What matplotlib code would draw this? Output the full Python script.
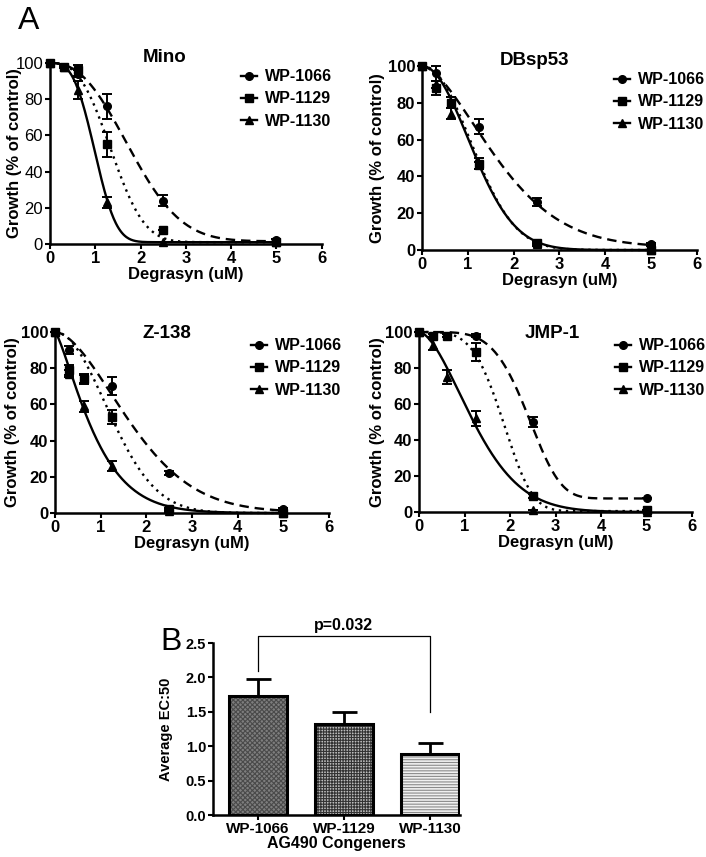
import numpy as np
import matplotlib
matplotlib.use('Agg')
import matplotlib.pyplot as plt

plt.rcParams['font.family'] = ['Liberation Sans', 'DejaVu Sans']
plt.rcParams['hatch.linewidth'] = 0.8

# ── Data ─────────────────────────────────────────────────────────────────────
DOSES = [0, 0.3125, 0.625, 1.25, 2.5, 5]
COMPOUNDS = ['WP-1066', 'WP-1129', 'WP-1130']
CELL_LINES = ['Mino', 'DBsp53', 'Z-138', 'JMP-1']

# mean growth (% of control), one list per compound, per cell line
mino_mean = [[100, 98, 94, 76, 24, 2],
             [100, 98, 96, 55, 8, 1],
             [100, 98, 85, 23, 1, 1]]
mino_err = [[0, 0, 2, 7, 3, 1],
            [0, 0, 3, 7, 0, 0],
            [0, 1, 5, 3, 0, 0]]

dbsp53_mean = [[100, 96, 80, 67, 26, 3],
               [100, 88, 80, 47, 4, 0],
               [100, 90, 74, 46, 3, 0]]
dbsp53_err = [[0, 4, 3, 4, 2, 1],
              [0, 4, 3, 3, 1, 0],
              [0, 2, 3, 2, 1, 0]]

z138_mean = [[100, 90, 74, 70, 22, 2],
             [100, 79, 74, 53, 2, 0],
             [100, 77, 59, 26, 1, 0]]
z138_err = [[0, 2, 2, 5, 1, 1],
            [0, 3, 3, 4, 1, 0],
            [0, 2, 3, 3, 1, 0]]

jmp1_mean = [[100, 98, 98, 98, 50, 8],
             [100, 98, 98, 89, 9, 1],
             [100, 93, 75, 52, 1, 0]]
jmp1_err = [[0, 1, 1, 1, 3, 0],
            [0, 1, 1, 5, 1, 0],
            [0, 3, 4, 4, 0, 0]]

# fitted curve parameters: scale, shape, bottom
mino_fit = [(2.10, 2.4, 1.5), (1.56, 2.8, 1.0), (1.12, 3.1, 1.0)]
dbsp53_fit = [(2.01, 1.63, 1.5), (1.44, 2.1, 0.0), (1.42, 2.0, 0.0)]
z138_fit = [(2.03, 1.73, 0.5), (1.55, 2.0, 0.0), (0.99, 1.3, 0.0)]
jmp1_fit = [(2.584, 4.7, 7.5), (2.02, 4.1, 0.5), (1.49, 1.7, 0.0)]

# panel B: average EC50
EC50_MEAN = [1.73, 1.33, 0.88]
EC50_ERR = [0.25, 0.17, 0.17]
P_TEXT = 'p=0.032'

# ── Styles ───────────────────────────────────────────────────────────────────
MARKERS = ['o', 's', '^']
LINESTYLES = [(0, (4, 2.5)), (0, (1, 2)), '-']

fig = plt.figure(figsize=(7.06, 8.57), dpi=100)

rects = [[0.0708, 0.7153, 0.385, 0.2112],
         [0.5977, 0.7083, 0.3895, 0.2147],
         [0.0779, 0.4014, 0.388, 0.2112],
         [0.5935, 0.4026, 0.3867, 0.2100]]
means = [mino_mean, dbsp53_mean, z138_mean, jmp1_mean]
errs = [mino_err, dbsp53_err, z138_err, jmp1_err]
fits = [mino_fit, dbsp53_fit, z138_fit, jmp1_fit]
title_pos = [(0.423, 1.03), (0.41, 1.03), (0.41, 0.99), (0.487, 0.99)]
ylabel_x = [-0.103, -0.135, -0.128, -0.125]
legend_x = [0.675, 0.67, 0.685, 0.69]

xfit = np.linspace(0, 5, 300)
for p, name in enumerate(CELL_LINES):
    ax = fig.add_axes(rects[p])
    for i, comp in enumerate(COMPOUNDS):
        a, k, bot = fits[p][i]
        yfit = bot + (100 - bot) * np.exp(-(xfit / a) ** k)
        ax.plot(xfit, yfit, color='black', lw=1.7, ls=LINESTYLES[i], clip_on=False)
        ax.errorbar(DOSES, means[p][i], yerr=errs[p][i], fmt=MARKERS[i],
                    color='black', ms=5.5, elinewidth=1.4, capsize=3.5,
                    capthick=1.4, clip_on=False, zorder=3)
    handles = [plt.Line2D([], [], color='black', marker=MARKERS[i], ms=5.5, lw=1.7)
               for i in range(3)]
    ax.legend(handles, COMPOUNDS, loc='upper left',
              bbox_to_anchor=(legend_x[p], 1.01),
              frameon=False, handlelength=1.0, handletextpad=0.5,
              labelspacing=0.45, borderpad=0,
              prop={'weight': 'bold', 'size': 11.5})
    ax.text(title_pos[p][0], title_pos[p][1], name, transform=ax.transAxes,
            ha='center', va='center', fontsize=13.5, fontweight='bold')
    ax.set_xlim(0, 6)
    ax.set_ylim(0, 100)
    ax.set_xticks(range(0, 7))
    ax.set_yticks(range(0, 101, 20))
    for s in ['top', 'right']:
        ax.spines[s].set_visible(False)
    for s in ['left', 'bottom']:
        ax.spines[s].set_linewidth(1.8)
    ax.tick_params(width=1.5, length=3.5, pad=1.5, labelsize=12)
    for lab in ax.get_xticklabels():
        lab.set_fontweight('bold')
    if p > 0:
        for lab in ax.get_yticklabels():
            lab.set_fontweight('bold')
    ax.set_xlabel('Degrasyn (uM)', fontsize=12, fontweight='bold', labelpad=1)
    ax.set_ylabel('Growth (% of control)', fontsize=12, fontweight='bold')
    ax.yaxis.set_label_coords(ylabel_x[p], 0.5)

fig.text(0.025, 0.993, 'A', fontsize=23, va='top', ha='left')

# ── Panel B ──────────────────────────────────────────────────────────────────
axb = fig.add_axes([0.3017, 0.049, 0.35, 0.2007])
xpos = np.arange(len(COMPOUNDS))
faces = ['#7e7e7e', '#bdbdbd', '#f0f0f0']
hatch_col = ['#4a4a4a', '#333333', '#8a8a8a']
hatches = ['xxxxxxx', '++++++', '------']
for i in range(len(COMPOUNDS)):
    axb.bar(xpos[i], EC50_MEAN[i], width=0.67, color=faces[i], hatch=hatches[i],
            edgecolor=hatch_col[i], lw=0, zorder=2)
    axb.bar(xpos[i], EC50_MEAN[i], width=0.67, fill=False, edgecolor='black',
            lw=2.2, zorder=3)
    axb.errorbar(xpos[i], EC50_MEAN[i], yerr=[[0], [EC50_ERR[i]]], fmt='none',
                 ecolor='black', elinewidth=2, capsize=9, capthick=2, zorder=1)
axb.set_xlim(-0.523, 2.35)
axb.set_ylim(0, 2.5)
axb.set_yticks(np.arange(0, 2.51, 0.5))
axb.set_yticklabels([f'{v:.1f}' for v in np.arange(0, 2.51, 0.5)],
                    fontweight='bold', fontsize=10.5)
axb.set_xticks(xpos)
axb.set_xticklabels(COMPOUNDS, fontweight='bold', fontsize=11)
for s in ['top', 'right']:
    axb.spines[s].set_visible(False)
for s in ['left', 'bottom']:
    axb.spines[s].set_linewidth(1.8)
axb.tick_params(width=1.5, length=3.5, pad=1.5)
axb.set_xlabel('AG490 Congeners', fontsize=11.5, fontweight='bold', labelpad=0)
axb.set_ylabel('Average EC:50', fontsize=10.5, fontweight='bold')
axb.yaxis.set_label_coords(-0.162, 0.5)
# significance bracket
axb.plot([0, 0, 2, 2], [2.1, 2.6, 2.6, 1.5], color='black', lw=0.9, clip_on=False)
axb.text(1, 2.75, P_TEXT, ha='center', va='center', fontsize=11.5, fontweight='bold')
fig.text(0.227, 0.251, 'B', fontsize=23, va='center', ha='left')

fig.savefig('out.png', dpi=100)
